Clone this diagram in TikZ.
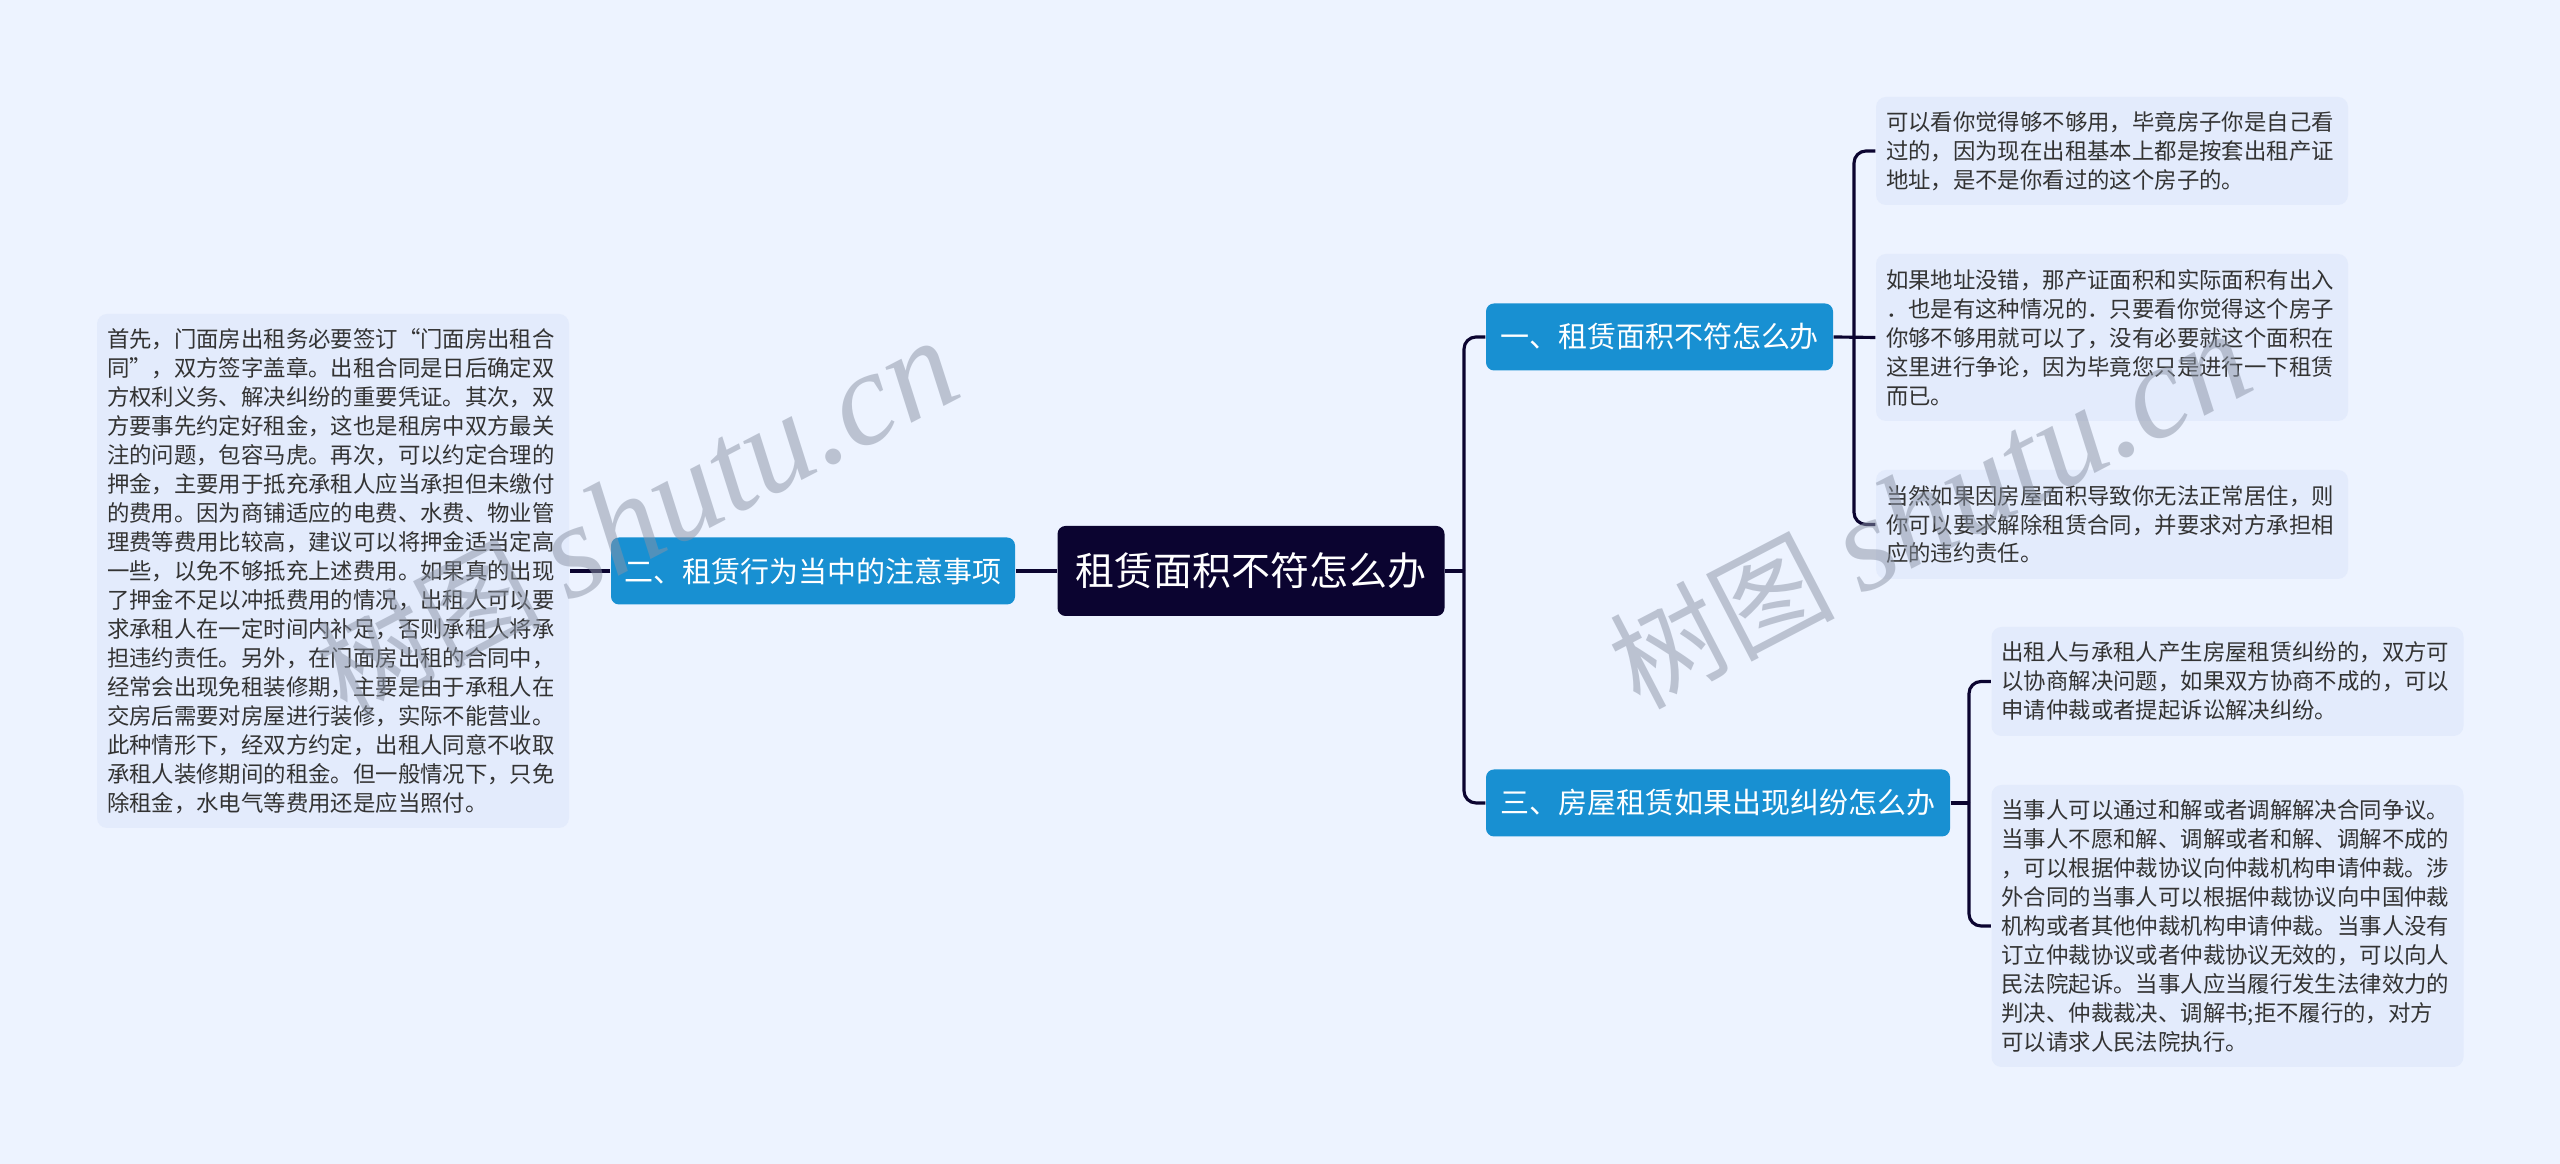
\documentclass[tikz,border=0pt]{standalone}
\usepackage{fontspec}
\setmainfont{Noto Sans CJK SC}
\newfontfamily\markfont{Liberation Serif}
\definecolor{pagebg}{HTML}{EDF3FF}
\definecolor{leafbg}{HTML}{E3EBFC}
\definecolor{branchbg}{HTML}{1890D2}
\definecolor{rootbg}{HTML}{0B0430}
\definecolor{leaftxt}{HTML}{333333}
\definecolor{markgray}{HTML}{8A93A5}
\begin{document}
\begin{tikzpicture}
[wire/.style={draw=rootbg, line width=0.9pt},
bus/.style={wire, rounded corners=1.2mm},
rootnode/.style={rectangle, fill=rootbg, text=white, rounded corners=0.8mm, inner sep=0pt, minimum width=38.7mm, minimum height=9mm, font=\fontsize{11.1pt}{13pt}\selectfont},
branch/.style={rectangle, fill=branchbg, text=white, rounded corners=0.8mm, inner sep=0pt, minimum height=6.7mm, font=\fontsize{8.25pt}{10pt}\selectfont},
leaf/.style={rectangle, fill=leafbg, text=leaftxt, rounded corners=1mm, inner sep=0pt, minimum width=47.2mm, text width=45.2mm, align=left, font=\fontsize{6.37pt}{8.25pt}\selectfont},
watermark/.style={text=markgray, opacity=0.5, rotate=27.5, anchor=west, inner sep=0pt, font=\fontsize{32pt}{40pt}\selectfont}]

\useasboundingbox (0,0) rectangle (25.60,11.64);
\fill[pagebg] (0,0) rectangle (25.60,11.64);

\node[rootnode] (root) at (12.51,5.93) {租赁面积不符怎么办};

\node[branch, minimum width=34.7mm] (area) at (16.595,8.27) {一、租赁面积不符怎么办};
\node[branch, minimum width=40.4mm] (notes) at (8.13,5.93) {二、租赁行为当中的注意事项};
\node[branch, minimum width=46.4mm] (dispute) at (17.18,3.61) {三、房屋租赁如果出现纠纷怎么办};

\node[leaf, minimum height=51.4mm] (notes1) at (3.33,5.93) {首先，门面房出租务必要签订“门面房出租合\\
同”，双方签字盖章。出租合同是日后确定双\\
方权利义务、解决纠纷的重要凭证。其次，双\\
方要事先约定好租金，这也是租房中双方最关\\
注的问题，包容马虎。再次，可以约定合理的\\
押金，主要用于抵充承租人应当承担但未缴付\\
的费用。因为商铺适应的电费、水费、物业管\\
理费等费用比较高，建议可以将押金适当定高\\
一些，以免不够抵充上述费用。如果真的出现\\
了押金不足以冲抵费用的情况，出租人可以要\\
求承租人在一定时间内补足，否则承租人将承\\
担违约责任。另外，在门面房出租的合同中，\\
经常会出现免租装修期，主要是由于承租人在\\
交房后需要对房屋进行装修，实际不能营业。\\
此种情形下，经双方约定，出租人同意不收取\\
承租人装修期间的租金。但一般情况下，只免\\
除租金，水电气等费用还是应当照付。};

\node[leaf, minimum height=10.8mm] (area1) at (21.12,10.13) {可以看你觉得够不够用，毕竟房子你是自己看\\
过的，因为现在出租基本上都是按套出租产证\\
地址，是不是你看过的这个房子的。};
\node[leaf, minimum height=16.7mm] (area2) at (21.12,8.265) {如果地址没错，那产证面积和实际面积有出入\\
．也是有这种情况的．只要看你觉得这个房子\\
你够不够用就可以了，没有必要就这个面积在\\
这里进行争论，因为毕竟您只是进行一下租赁\\
而已。};
\node[leaf, minimum height=10.9mm] (area3) at (21.12,6.395) {当然如果因房屋面积导致你无法正常居住，则\\
你可以要求解除租赁合同，并要求对方承担相\\
应的违约责任。};

\node[leaf, minimum height=10.9mm] (dispute1) at (22.275,4.825) {出租人与承租人产生房屋租赁纠纷的，双方可\\
以协商解决问题，如果双方协商不成的，可以\\
申请仲裁或者提起诉讼解决纠纷。};
\node[leaf, minimum height=28.2mm] (dispute2) at (22.275,2.38) {当事人可以通过和解或者调解解决合同争议。\\
当事人不愿和解、调解或者和解、调解不成的\\
，可以根据仲裁协议向仲裁机构申请仲裁。涉\\
外合同的当事人可以根据仲裁协议向中国仲裁\\
机构或者其他仲裁机构申请仲裁。当事人没有\\
订立仲裁协议或者仲裁协议无效的，可以向人\\
民法院起诉。当事人应当履行发生法律效力的\\
判决、仲裁裁决、调解书;拒不履行的，对方\\
可以请求人民法院执行。};

\coordinate (rootbus) at (14.64,5.93);
\coordinate (areabus) at (18.54,8.27);
\coordinate (disputebus) at (19.69,3.61);

\draw[wire] (root.east) -- (rootbus);
\draw[bus] (rootbus) |- (area.west);
\draw[bus] (rootbus) |- (dispute.west);
\draw[wire] (root.west) -- (notes.east);
\draw[wire] (notes.west) -- (notes1.east);

\draw[wire] (area.east) -- (area2.west);
\draw[bus] (areabus) |- (area1.west);
\draw[bus] (areabus) |- (area3.west);

\draw[wire] (dispute.east) -- (disputebus);
\draw[bus] (disputebus) |- (dispute1.west);
\draw[bus] (disputebus) |- (dispute2.west);

\node[watermark] (mark1) at (3.26,4.84) {树图 {\markfont\itshape\fontsize{38pt}{40pt}\selectfont shutu.cn}};
\node[watermark] (mark2) at (16.19,4.91) {树图 {\markfont\itshape\fontsize{38pt}{40pt}\selectfont shutu.cn}};

\end{tikzpicture}
\end{document}
